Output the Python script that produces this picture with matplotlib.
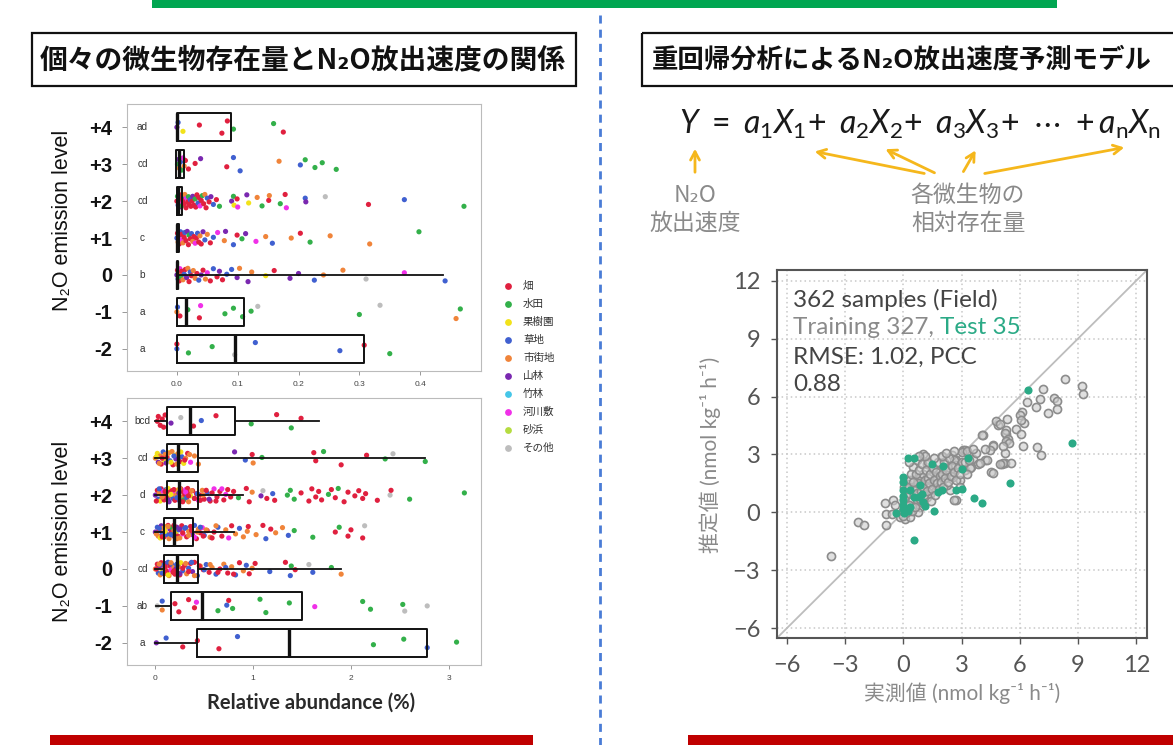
import matplotlib
matplotlib.use('Agg')
import matplotlib.pyplot as plt
from matplotlib.patches import Rectangle

W, H = 1173, 745
plt.rcParams['font.family'] = ['Noto Sans CJK JP', 'DejaVu Sans']
plt.rcParams['mathtext.fontset'] = 'custom'
plt.rcParams['mathtext.rm'] = 'Lato'
plt.rcParams['mathtext.it'] = 'Lato:italic'
plt.rcParams['mathtext.bf'] = 'Lato:bold'

# ---------------- data ----------------
LEVELS = [4, 3, 2, 1, 0, -1, -2]
LEVEL_LABELS = ['+4', '+3', '+2', '+1', '0', '-1', '-2']

LAND_CODES = ['R', 'G', 'Y', 'B', 'O', 'P', 'C', 'M', 'L', 'X']
LAND_NAMES = ['畑', '水田', '果樹園', '草地', '市街地', '山林', '竹林', '河川敷', '砂浜', 'その他']
LAND_COLORS = ['#E0203F', '#33B04A', '#F2E21A', '#4060D0', '#F0843A',
               '#7A28B0', '#45C6E8', '#F030E8', '#B5DC40', '#BDBDBD']

# top panel box statistics (levels +4 .. -2)
top_q1 = [0.000, -0.001, 0.000, 0.000, 0.000, 0.000, 0.001]
top_med = [0.001, 0.003, 0.002, 0.001, 0.001, 0.015, 0.095]
top_q3 = [0.089, 0.012, 0.009, 0.004, 0.002, 0.110, 0.308]
top_wlo = [0.000, -0.001, 0.000, 0.000, 0.000, 0.000, 0.001]
top_whi = [0.089, 0.012, 0.009, 0.004, 0.437, 0.110, 0.308]
top_letters = ['ad', 'cd', 'cd', 'c', 'b', 'a', 'a']

# top panel points
top_p4_x = [0.000, 0.002, 0.010, 0.037, 0.074, 0.083, 0.093, 0.159, 0.175]
top_p4_c = "PBYRRRGGR"
top_p3_x = [0.001, 0.003, 0.004, 0.006, 0.008, 0.010, 0.012, 0.014, 0.019, 0.030,
            0.039, 0.082, 0.093, 0.104, 0.168, 0.203, 0.211, 0.227, 0.239, 0.262]
top_p3_c = "GPOBGMORRRPRBBOBGGGG"
top_p2_x = [0.000, 0.001, 0.002, 0.003, 0.004, 0.005, 0.006, 0.007, 0.008, 0.010,
            0.011, 0.012, 0.013, 0.015, 0.016, 0.018, 0.019, 0.020, 0.022, 0.023,
            0.025, 0.026, 0.028, 0.030, 0.031, 0.033, 0.035, 0.036, 0.038, 0.040,
            0.042, 0.044, 0.046, 0.048, 0.050, 0.053, 0.056, 0.060, 0.065, 0.070,
            0.090, 0.093, 0.094, 0.099, 0.100, 0.115, 0.118, 0.132, 0.140, 0.151,
            0.152, 0.170, 0.178, 0.180, 0.211, 0.212, 0.244, 0.315, 0.374, 0.472]
top_p2_c = "RGBRPRMRGRBRORMRGRBRRPRGRRBRMRGRORBRPBRGPGYRMPYOGROGRMBPXRBG"
top_p1_x = [0.000, 0.001, 0.002, 0.003, 0.004, 0.006, 0.007, 0.008, 0.010, 0.012,
            0.013, 0.015, 0.017, 0.019, 0.020, 0.022, 0.024, 0.026, 0.028, 0.030,
            0.032, 0.034, 0.036, 0.038, 0.040, 0.043, 0.046, 0.050, 0.055, 0.060,
            0.067, 0.078, 0.080, 0.093, 0.099, 0.107, 0.113, 0.130, 0.146, 0.157,
            0.188, 0.203, 0.219, 0.252, 0.317, 0.398]
top_p1_c = "BROPRBMRORBRPRGRBORMRBRORPBORBMOPBRGPMOBORGOOG"
top_p0_x = [0.000, 0.001, 0.002, 0.003, 0.004, 0.005, 0.006, 0.008, 0.010, 0.012,
            0.014, 0.016, 0.018, 0.020, 0.022, 0.024, 0.027, 0.030, 0.033, 0.036,
            0.040, 0.043, 0.047, 0.050, 0.055, 0.060, 0.066, 0.070, 0.075, 0.082,
            0.090, 0.099, 0.103, 0.117, 0.123, 0.146, 0.160, 0.186, 0.200, 0.226,
            0.241, 0.273, 0.311, 0.374, 0.441]
top_p0_c = "PRBORMGROBRPORBROORBPROMRBRPRBBPOPOYRPPBOOXMB"
top_m1_x = [0.000, 0.001, 0.005, 0.018, 0.037, 0.039, 0.079, 0.093, 0.108, 0.122,
            0.133, 0.300, 0.334, 0.459, 0.466]
top_m1_c = "OBRGRMGGGGXGXOG"
top_m2_x = [0.000, 0.000, 0.019, 0.058, 0.095, 0.129, 0.268, 0.308, 0.350]
top_m2_c = "BRGGXBBRG"

# bottom panel box statistics
bot_q1 = [0.12, 0.12, 0.12, 0.09, 0.09, 0.165, 0.43]
bot_med = [0.35, 0.23, 0.24, 0.195, 0.22, 0.48, 1.37]
bot_q3 = [0.81, 0.44, 0.44, 0.39, 0.44, 1.50, 2.78]
bot_wlo = [0.00, 0.00, 0.00, 0.00, 0.00, 0.01, 0.00]
bot_whi = [1.67, 2.76, 0.90, 0.80, 1.90, 1.50, 2.78]
bot_letters = ['bcd', 'cd', 'd', 'c', 'cd', 'ab', 'a']

bot_p4_x = [0.02, 0.03, 0.05, 0.07, 0.085, 0.10, 0.16, 0.26, 0.39, 0.47, 0.62, 0.98, 1.24, 1.39, 1.49]
bot_p4_c = "RRRRRRPXRBRGRGR"
bot_p3_x = [0.00, 0.02, 0.03, 0.05, 0.06, 0.08, 0.09, 0.10, 0.11, 0.12, 0.14, 0.15, 0.17,
            0.18, 0.20, 0.21, 0.23, 0.25, 0.27, 0.29, 0.31, 0.33, 0.36, 0.40, 0.44, 0.81,
            0.92, 0.99, 1.00, 1.09, 1.62, 1.64, 1.72, 1.90, 2.16, 2.35, 2.43, 2.76,
            0.01, 0.04, 0.07, 0.13, 0.16, 0.19, 0.22, 0.26, 0.30, 0.35]
bot_p3_c = "OYPORBYOPRYBORYPORBYORMOOPBROGRRGRRGXG" "YOROYBOYRO"
bot_p2_x = [0.00, 0.02, 0.03, 0.04, 0.05, 0.06, 0.07, 0.08, 0.09, 0.10, 0.11, 0.12, 0.13,
            0.14, 0.15, 0.16, 0.17, 0.18, 0.19, 0.20, 0.21, 0.22, 0.23, 0.24, 0.25, 0.26,
            0.27, 0.28, 0.29, 0.30, 0.31, 0.32, 0.33, 0.34, 0.35, 0.36, 0.38, 0.40, 0.42,
            0.44, 0.46, 0.48, 0.50, 0.53, 0.56, 0.60, 0.63, 0.66, 0.70, 0.72, 0.74, 0.85,
            0.93, 0.96, 0.99, 1.08, 1.10, 1.14, 1.20, 1.22, 1.35, 1.38, 1.42, 1.49, 1.57,
            1.60, 1.64, 1.67, 1.70, 1.77, 1.80, 1.84, 1.87, 1.93, 1.97, 2.04, 2.08, 2.12,
            2.15, 2.27, 2.40, 2.41, 2.60, 3.16,
            0.01, 0.04, 0.07, 0.10, 0.13, 0.16, 0.19, 0.22, 0.25, 0.28, 0.31, 0.34, 0.37,
            0.40, 0.43, 0.46, 0.49, 0.52, 0.55, 0.58, 0.62, 0.68, 0.77, 0.80]
bot_p2_c = ("PRBOYRPMRO" "BRYPRORBMR" "OYRPBRORGR" "MBRORYRBRM" "RORBRMRRRM"
            "RGRROPXRBR" "GGGRRRRRRG" "RRGRRRRRRR" "XRGG"
            "RBORPYRBORMRORBRORPR" "RMRR")
bot_p1_x = [0.00, 0.02, 0.03, 0.04, 0.05, 0.06, 0.07, 0.08, 0.09, 0.10, 0.11, 0.12, 0.13,
            0.14, 0.15, 0.16, 0.17, 0.18, 0.19, 0.20, 0.21, 0.22, 0.23, 0.24, 0.25, 0.27,
            0.28, 0.30, 0.32, 0.34, 0.36, 0.38, 0.40, 0.42, 0.44, 0.46, 0.48, 0.50, 0.53,
            0.56, 0.60, 0.64, 0.68, 0.72, 0.75, 0.78, 0.82, 0.86, 0.90, 0.94, 0.95, 1.03,
            1.10, 1.13, 1.18, 1.23, 1.30, 1.36, 1.42, 1.61, 1.84, 1.88, 1.97, 2.00, 2.12, 2.14,
            0.01, 0.04, 0.07, 0.10, 0.13, 0.16, 0.19, 0.22, 0.25, 0.28, 0.31, 0.34, 0.37,
            0.40, 0.43, 0.46, 0.49, 0.52, 0.58, 0.62]
bot_p1_c = ("PBORYPBORM" "YBROPRGBOR" "YPRBORMBRO" "RPBRORMBRO" "RBROMROBOO"
            "RORBROOBGG" "RGRRRX" "OBRYOBROPRBORMOBRORO")
bot_p0_x = [0.00, 0.02, 0.03, 0.04, 0.05, 0.06, 0.07, 0.08, 0.09, 0.10, 0.11, 0.12, 0.13,
            0.14, 0.15, 0.16, 0.17, 0.18, 0.19, 0.20, 0.21, 0.22, 0.23, 0.24, 0.25, 0.26,
            0.28, 0.30, 0.32, 0.34, 0.36, 0.38, 0.40, 0.43, 0.46, 0.49, 0.52, 0.55, 0.58,
            0.62, 0.66, 0.70, 0.74, 0.78, 0.82, 0.86, 0.90, 0.93, 0.96, 0.99, 1.02, 1.17,
            1.33, 1.38, 1.39, 1.43, 1.57, 1.61, 1.80, 1.90,
            0.01, 0.04, 0.07, 0.10, 0.13, 0.16, 0.19, 0.22, 0.25, 0.28, 0.31, 0.34, 0.37,
            0.40, 0.45, 0.50, 0.56, 0.64, 0.72, 0.80]
bot_p0_c = ("ORBPORYBRO" "PRBORMBROR" "PBRORYBROB" "RPRBORBROB" "ROROBROBRO"
            "R" "BRBGRXBGO" "ROBRYORBPRORBORBORBR")
bot_m1_x = [0.02, 0.07, 0.07, 0.20, 0.24, 0.34, 0.40, 0.42, 0.64, 0.73, 0.75, 0.79, 1.07,
            1.13, 1.37, 1.63, 2.12, 2.20, 2.53, 2.55, 2.78]
bot_m1_c = "XBORRRRMGBRGGGGMGGGXX"
bot_m2_x = [0.01, 0.11, 0.28, 0.43, 0.65, 0.84, 2.23, 2.54, 2.78, 3.08]
bot_m2_c = "PBRRRBGGBG"

# right panel: measured vs predicted
train_x = [-3.72, -2.31, -2.02, -0.94, -0.51, -0.43, -0.89, -0.89, -0.60, -0.17, 0.09, 0.34,
           0.43, 0.43, 0.51, 0.69, 0.86, 1.03, 0.94, 1.20, 1.37, 1.54, 1.71, 1.89, 2.06, 1.97,
           2.40, 2.57, 2.74, 3.09, 3.34, 3.17, 2.91, 2.40, 2.71, 2.23, 1.03, 0.69, 0.51, 1.20,
           1.46, 0.26, 0.26, 0.69, 1.20, 0.86, 0.26, 0.00, 0.00, 0.77, 1.37, 1.71, 2.06, 2.31,
           2.66, 2.49, 3.60, 3.86, 4.20, 4.11, 4.63, 4.89, 5.31, 5.06, 5.23, 4.54, 3.51,
           8.31, 9.20, 9.26, 7.17, 7.06, 7.78, 7.94, 7.94, 7.46, 6.84, 6.36, 6.09, 6.00, 6.21,
           6.04, 5.34, 4.80, 4.98, 5.83, 6.05, 5.31, 5.23, 5.40, 5.27, 5.44, 4.08, 6.17, 6.91,
           7.11, 5.23, 5.14, 4.63, 4.46, 4.20, 3.77, 4.29, 5.14, 4.97, 5.57, 4.63, 3.94, 3.46,
           3.17, 3.00, 3.26, 2.63, 2.63,
           0.10, 0.15, 0.20, 0.30, 0.35, 0.40, 0.45, 0.55, 0.60, 0.65, 0.70, 0.75, 0.80, 0.85,
           0.90, 0.95, 1.00, 1.05, 1.10, 1.15, 1.20, 1.25, 1.30, 1.35, 1.40, 1.45, 1.50, 1.55,
           1.60, 1.65, 1.70, 1.75, 1.80, 1.85, 1.90, 1.95, 2.00, 2.05, 2.10, 2.15, 2.20, 2.30,
           2.35, 2.45, 2.50, 2.60, 2.70, 2.80, 2.90, 3.00, 0.05, 0.05, 0.10, 0.20, 0.30, 0.60,
           0.50, 1.00, 1.10, 0.80, 0.30, 1.60, 2.00, 2.20, 2.60, 3.20, 3.40, 3.60, 3.30, 2.90]
train_y = [-2.28, -0.50, -0.64, 0.48, 0.66, 0.41, -0.07, -0.67, -0.07, -0.24, -0.33, -0.24,
           0.28, 0.62, 1.14, 1.66, 1.83, 1.97, 1.40, 1.49, 1.31, 1.57, 1.83, 2.18, 2.35, 2.87,
           2.09, 1.83, 2.70, 3.22, 3.04, 2.18, 1.66, 1.14, 0.62, 1.40, 3.01, 2.70, 2.35, 2.52,
           2.27, 1.49, 0.97, 0.62, 0.80, 0.28, 0.10, -0.16, 0.10, 0.02, 0.97, 1.14, 1.75, 2.35,
           2.44, 2.96, 2.78, 2.52, 2.70, 3.99, 3.48, 4.51, 4.08, 2.52, 2.56, 2.09, 2.35,
           6.93, 6.54, 6.12, 6.40, 5.88, 5.93, 5.76, 5.33, 5.17, 5.45, 5.71, 5.20, 5.03, 4.65,
           4.77, 4.82, 4.72, 4.60, 4.34, 4.08, 4.25, 4.12, 3.82, 3.70, 3.60, 4.00, 3.42, 3.39,
           2.99, 3.08, 3.42, 3.42, 3.25, 3.30, 3.08, 2.70, 2.56, 2.53, 2.56, 2.06, 2.56, 2.32,
           3.25, 3.13, 3.20, 2.70, 0.62,
           0.50, 0.90, 1.20, 0.40, 1.70, 2.00, 0.10, 0.90, 1.30, 2.00, 1.00, 1.50, 2.20, 0.70,
           1.10, 2.50, 1.30, 0.90, 1.70, 2.20, 1.10, 1.80, 2.60, 1.50, 2.00, 0.60, 1.20, 2.30,
           1.70, 0.90, 2.10, 1.50, 2.60, 1.20, 1.90, 1.60, 2.00, 1.30, 2.60, 1.80, 2.20, 1.60,
           2.80, 1.90, 2.40, 2.10, 1.70, 2.30, 2.00, 2.60, 0.70, 1.30, 0.20, 0.00, 1.30, 0.30,
           1.60, 0.50, 2.90, 2.90, 2.60, 2.80, 2.90, 3.10, 3.20, 2.60, 2.70, 3.30, 2.00, 1.30]
test_x = [6.40, 8.71, 5.49, 3.65, 4.03, 3.34, 3.00, 3.00, 2.71, 1.60, 1.11, 1.49, 2.00, 0.55,
          0.27, 0.55, 0.00, 0.00, 0.00, 0.00, 0.00, 0.00, -0.39, 0.34, 0.55, 0.86, 0.79, 0.36,
          0.03, 0.99, 1.80, 0.26, 2.06, 1.03, 0.00]
test_y = [6.33, 3.60, 1.54, 0.74, 0.48, 2.84, 2.27, 1.23, 1.14, 0.10, 0.33, 2.49, 1.14, -1.45,
          2.84, 2.84, 1.83, 1.57, 1.14, 0.85, 0.36, 0.19, -0.02, 1.14, 0.80, 1.40, 0.80, 0.28,
          -0.02, 0.97, 1.05, 0.10, 2.42, 0.54, 0.62]
SCATTER_TICKS = [-6, -3, 0, 3, 6, 9, 12]

# ---------------- figure ----------------
fig = plt.figure(figsize=(W / 100, H / 100), dpi=100)
fig.patch.set_facecolor('white')


def px_axes(l, t, r, b):
    return fig.add_axes([l / W, 1 - b / H, (r - l) / W, (b - t) / H])


ov = px_axes(0, 0, W, H)
ov.set_xlim(0, W)
ov.set_ylim(H, 0)
ov.axis('off')

# decorative bars / separators
ov.add_patch(Rectangle((152, 0), 905, 8, color='#00A651', lw=0))
ov.add_patch(Rectangle((50, 735), 483, 12, color='#C00000', lw=0))
ov.add_patch(Rectangle((688, 735), 490, 12, color='#C00000', lw=0))
ov.plot([600, 600], [15, 745], color='#4A7CD6', lw=2, dashes=(2.9, 2.2))

# title boxes
ov.add_patch(Rectangle((32, 33), 544, 53, fill=False, ec='#111', lw=1.6))
ov.text(303, 60, '個々の微生物存在量とN₂O放出速度の関係', ha='center', va='center',
        fontsize=20, fontweight='bold', color='#111')
ov.add_patch(Rectangle((642, 33), 560, 53, fill=False, ec='#111', lw=1.6, clip_on=False))
ov.text(652, 60, '重回帰分析によるN₂O放出速度予測モデル', ha='left', va='center',
        fontsize=19, fontweight='bold', color='#111')

# equation and arrows
ov.text(920, 124, r'$Y\ =\ a_1X_1\!+\ a_2X_2\!+\ a_3X_3\!+\ \cdots\ +a_{\mathrm{n}}X_{\mathrm{n}}$',
        ha='center', va='center', fontsize=23, color='#1a1a1a')
arrow_kw = dict(arrowstyle='->,head_length=0.6,head_width=0.32', color='#F5B71C', lw=2)
for tail, head in [((695, 175), (695, 146)), ((927, 174), (812, 151)),
                   ((937, 174), (883, 148)), ((962, 174), (977, 148)),
                   ((982, 174), (1127, 147))]:
    ov.annotate('', xy=head, xytext=tail, arrowprops=arrow_kw)
gray_txt = '#8a8a8a'
ov.text(695, 196, 'N₂O', ha='center', va='center', fontsize=16.5, color=gray_txt)
ov.text(695, 223, '放出速度', ha='center', va='center', fontsize=16.5, color=gray_txt)
ov.text(968, 195, '各微生物の', ha='center', va='center', fontsize=16.5, color=gray_txt)
ov.text(968, 223, '相対存在量', ha='center', va='center', fontsize=16.5, color=gray_txt)

# ---------------- box panels ----------------
COLOR_OF = dict(zip(LAND_CODES, LAND_COLORS))
JIT = [0.00, 0.13, -0.11, 0.06, -0.16, 0.17, -0.05, 0.10, -0.13, 0.02,
       0.15, -0.07, 0.18, -0.18, 0.08, -0.02, 0.12, -0.09, 0.04, -0.14]


def box_panel(ax, q1, med, q3, wlo, whi, xs_list, cs_list, letters, xlim, xticks, xticklabels):
    for lev, xs, cs in zip(LEVELS, xs_list, cs_list):
        n = min(len(xs), len(cs))
        ys = [lev + JIT[i % len(JIT)] for i in range(n)]
        ax.scatter(xs[:n], ys, c=[COLOR_OF[c] for c in cs[:n]], s=14, linewidths=0, zorder=2)
    stats = [dict(q1=a, med=m, q3=b, whislo=lo, whishi=hi, label='')
             for a, m, b, lo, hi in zip(q1, med, q3, wlo, whi)]
    kw = dict(positions=LEVELS, widths=0.76, showcaps=False, showfliers=False,
              manage_ticks=False, zorder=3,
              boxprops=dict(color='#111', lw=1.4),
              medianprops=dict(color='#111', lw=2.4),
              whiskerprops=dict(color='#111', lw=1.3))
    try:
        ax.bxp(stats, orientation='horizontal', **kw)
    except TypeError:
        ax.bxp(stats, vert=False, **kw)
    for lev, let in zip(LEVELS, letters):
        ax.text(0.044, lev, let, transform=ax.get_yaxis_transform(), ha='center',
                va='center', fontsize=7.2, color='#333', family=['Liberation Sans', 'DejaVu Sans'],
                zorder=4)
    ax.set_xlim(*xlim)
    ax.set_ylim(-2.6, 4.63)
    ax.set_yticks(LEVELS)
    ax.set_yticklabels(LEVEL_LABELS, fontsize=14.5, fontweight='bold',
                       family=['Liberation Sans', 'DejaVu Sans'], color='#111')
    ax.set_xticks(xticks)
    ax.set_xticklabels(xticklabels, fontsize=6, color='#444',
                       family=['Liberation Sans', 'DejaVu Sans'])
    ax.tick_params(axis='y', length=3.5, width=0.6, color='#888', pad=7)
    ax.tick_params(axis='x', length=3, width=0.6, color='#888', pad=4)
    for sp in ax.spines.values():
        sp.set_color('#BBBBBB')
        sp.set_linewidth(0.8)


ax_top = px_axes(127, 104, 481, 371)
box_panel(ax_top, top_q1, top_med, top_q3, top_wlo, top_whi,
          [top_p4_x, top_p3_x, top_p2_x, top_p1_x, top_p0_x, top_m1_x, top_m2_x],
          [top_p4_c, top_p3_c, top_p2_c, top_p1_c, top_p0_c, top_m1_c, top_m2_c],
          top_letters, (-0.082, 0.5), [0, 0.1, 0.2, 0.3, 0.4],
          ['0.0', '0.1', '0.2', '0.3', '0.4'])

ax_bot = px_axes(127, 398, 481, 665)
box_panel(ax_bot, bot_q1, bot_med, bot_q3, bot_wlo, bot_whi,
          [bot_p4_x, bot_p3_x, bot_p2_x, bot_p1_x, bot_p0_x, bot_m1_x, bot_m2_x],
          [bot_p4_c, bot_p3_c, bot_p2_c, bot_p1_c, bot_p0_c, bot_m1_c, bot_m2_c],
          bot_letters, (-0.29, 3.33), [0, 1, 2, 3], ['0', '1', '2', '3'])

for yc in (220, 531):
    ov.text(62, yc, 'N₂O emission level', rotation=90, ha='center', va='center',
            fontsize=15.5, color='#111', family=['Liberation Sans', 'DejaVu Sans'])
ov.text(311, 703, 'Relative abundance (%)', ha='center', va='center', fontsize=14.5,
        fontweight='bold', color='#2a2a2a', family=['Lato', 'DejaVu Sans'])

# legend
for i, (name, col) in enumerate(zip(LAND_NAMES, LAND_COLORS)):
    yy = 286 + i * 18
    ov.scatter([508], [yy], s=24, color=col, linewidths=0)
    ov.text(523, yy, name, ha='left', va='center', fontsize=7.6, color='#333')

# ---------------- scatter panel ----------------
ax_sc = px_axes(777, 270, 1147, 638)
lo, hi = -6.5, 12.55
ax_sc.set_xlim(lo, hi)
ax_sc.set_ylim(lo, hi)
ax_sc.plot([lo, hi], [lo, hi], color='#BDBDBD', lw=1.3, zorder=1)
ax_sc.scatter(train_x, train_y, s=34, facecolors=(0.80, 0.80, 0.80, 0.6),
              edgecolors='#8C8C8C', linewidths=1.2, zorder=3)
ax_sc.scatter(test_x, test_y, s=34, color='#2BAA86', linewidths=0, zorder=4)
ax_sc.set_xticks(SCATTER_TICKS)
ax_sc.set_yticks(SCATTER_TICKS)
ax_sc.set_xticklabels(['−6', '−3', '0', '3', '6', '9', '12'])
ax_sc.set_yticklabels(['−6', '−3', '0', '3', '6', '9', '12'])
ax_sc.grid(True, color='#C8C8C8', lw=1.1, linestyle=(0, (1, 2)))
ax_sc.set_axisbelow(True)
ax_sc.tick_params(direction='out', length=4, width=1, color='#555', labelcolor='#555',
                  labelsize=17, pad=8)
for lab in ax_sc.get_xticklabels() + ax_sc.get_yticklabels():
    lab.set_family(['Lato', 'DejaVu Sans'])
for sp in ax_sc.spines.values():
    sp.set_color('#555')
    sp.set_linewidth(1.5)

tfam = ['Lato', 'DejaVu Sans']
fs_in = 17.5
ax_sc.text(0.043, 0.918, '362 samples (Field)', transform=ax_sc.transAxes, fontsize=fs_in,
           color='#444', family=tfam, va='center')
t2 = ax_sc.text(0.043, 0.845, 'Training 327, ', transform=ax_sc.transAxes, fontsize=fs_in,
                color='#8a8a8a', family=tfam, va='center')
ax_sc.annotate('Test 35', xy=(1, 0), xycoords=t2, fontsize=fs_in, color='#2BAA86',
               family=tfam, va='bottom', ha='left')
ax_sc.text(0.043, 0.764, 'RMSE: 1.02, PCC', transform=ax_sc.transAxes, fontsize=fs_in,
           color='#444', family=tfam, va='center')
ax_sc.text(0.043, 0.688, '0.88', transform=ax_sc.transAxes, fontsize=fs_in,
           color='#444', family=tfam, va='center')

ov.text(962, 693, '実測値 (nmol kg⁻¹ h⁻¹)', ha='center', va='center', fontsize=15,
        color='#8a8a8a', family=['Lato', 'Noto Sans CJK JP', 'DejaVu Sans'])
ov.text(710, 455, '推定値 (nmol kg⁻¹ h⁻¹)', ha='center', va='center', fontsize=15,
        rotation=90, color='#8a8a8a', family=['Lato', 'Noto Sans CJK JP', 'DejaVu Sans'])

fig.savefig('out.png', dpi=100, facecolor='white')
